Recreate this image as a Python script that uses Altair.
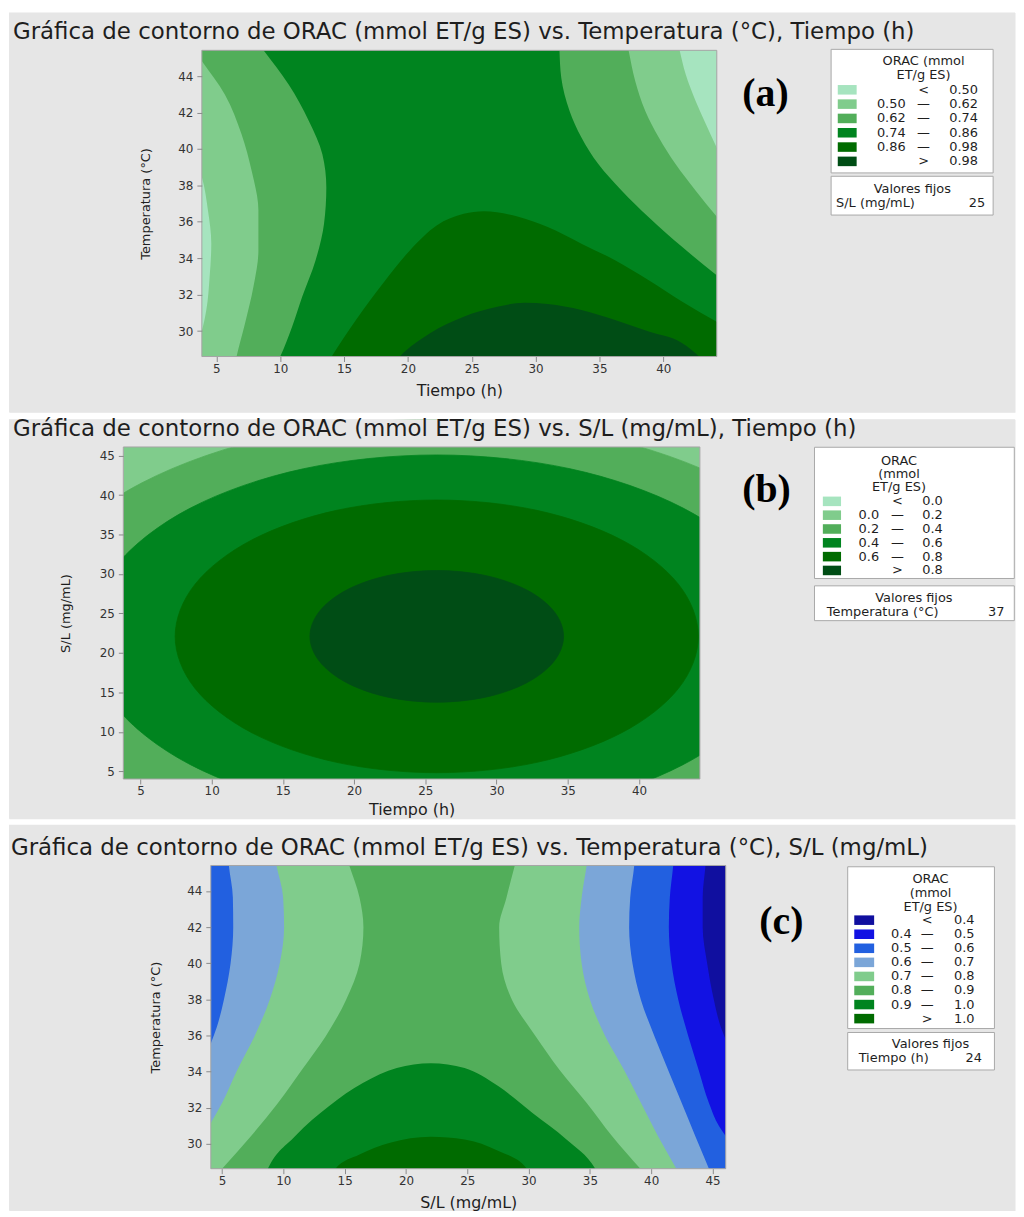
import altair as alt
import pandas as pd

FONT = "DejaVu Sans"
SERIF = "Liberation Serif"
PANEL_BG = "#e6e6e6"
FRAME = "#a4a4a4"
BOX_EDGE = "#a8a8a8"
TXT = "#1e1e1e"

# contour band colours (Minitab palette)
G1, G2, G3, G4, G5, G6 = "#a6e4bf", "#80cc8c", "#52ae5a", "#00841f", "#006b00", "#004d15"
B1, B2, B3, B4 = "#100f9f", "#1212e3", "#2260e0", "#7ba6d8"

# ---------------- texts ----------------
title_a = "Gráfica de contorno de ORAC (mmol ET/g ES) vs. Temperatura (°C), Tiempo (h)"
title_b = "Gráfica de contorno de ORAC (mmol ET/g ES) vs. S/L (mg/mL), Tiempo (h)"
title_c = "Gráfica de contorno de ORAC (mmol ET/g ES) vs. Temperatura (°C), S/L (mg/mL)"

# ---------------- legends ----------------
leg_a_title = ["ORAC (mmol", "ET/g ES)"]
leg_a_colors = [G1, G2, G3, G4, G5, G6]
leg_a_low = ["", "0.50", "0.62", "0.74", "0.86", ""]
leg_a_sym = ["<", "—", "—", "—", "—", ">"]
leg_a_high = ["0.50", "0.62", "0.74", "0.86", "0.98", "0.98"]
fix_a = ["S/L (mg/mL)", "25"]

leg_b_title = ["ORAC", "(mmol", "ET/g ES)"]
leg_b_colors = [G1, G2, G3, G4, G5, G6]
leg_b_low = ["", "0.0", "0.2", "0.4", "0.6", ""]
leg_b_sym = ["<", "—", "—", "—", "—", ">"]
leg_b_high = ["0.0", "0.2", "0.4", "0.6", "0.8", "0.8"]
fix_b = ["Temperatura (°C)", "37"]

leg_c_title = ["ORAC", "(mmol", "ET/g ES)"]
leg_c_colors = [B1, B2, B3, B4, G2, G3, G4, G5]
leg_c_low = ["", "0.4", "0.5", "0.6", "0.7", "0.8", "0.9", ""]
leg_c_sym = ["<", "—", "—", "—", "—", "—", "—", ">"]
leg_c_high = ["0.4", "0.5", "0.6", "0.7", "0.8", "0.9", "1.0", "1.0"]
fix_c = ["Tiempo (h)", "24"]

# ---------------- panel (a): Temperatura vs Tiempo ----------------
a_x_domain = [3.86, 44.19]
a_y_domain = [28.60, 45.42]
a_x_ticks = [5, 10, 15, 20, 25, 30, 35, 40]
a_y_ticks = [30, 32, 34, 36, 38, 40, 42, 44]
a_l3_y = [46.0, 45.42, 43.54, 41.54, 39.71, 37.89, 35.89, 33.89, 31.88, 30.24, 28.60, 28.0]
a_l3_x = [8.08, 8.69, 10.66, 12.24, 13.30, 13.61, 13.43, 12.77, 11.72, 10.93, 10.00, 9.6]
a_l2_y = [45.7, 44.82, 43.00, 40.81, 38.80, 36.62, 34.43, 32.43, 30.42, 28.60, 28.0]
a_l2_x = [3.0, 3.87, 5.66, 6.97, 7.76, 8.29, 8.29, 7.90, 7.24, 6.58, 6.4]
a_l1_y = [39.6, 38.44, 36.62, 34.80, 32.98, 31.15, 30.06, 29.2]
a_l1_x = [3.3, 3.87, 4.34, 4.60, 4.47, 4.21, 3.87, 3.4]
a_r3_y = [46.0, 45.42, 43.91, 42.09, 40.63, 39.17, 37.71, 36.25, 34.61, 33.06, 32.3]
a_r3_x = [31.85, 31.87, 32.01, 32.66, 33.59, 34.91, 36.75, 38.86, 41.49, 44.18, 45.5]
a_r2_y = [46.0, 45.42, 43.73, 42.09, 40.63, 39.17, 37.71, 36.29, 35.2]
a_r2_x = [37.1, 37.28, 37.80, 38.59, 39.65, 40.96, 42.54, 44.18, 45.5]
a_r1_y = [46.0, 45.42, 44.09, 42.63, 41.36, 40.08, 38.8]
a_r1_x = [41.1, 41.28, 41.76, 42.54, 43.34, 44.18, 45.0]
a_b5_x = [13.5, 14.03, 15.93, 18.04, 20.15, 22.25, 24.37, 25.94, 28.58, 30.95, 33.59, 36.22, 38.86, 41.49, 44.18, 45.5]
a_b5_y = [28.0, 28.60, 30.60, 32.61, 34.43, 35.80, 36.44, 36.58, 36.29, 35.71, 34.80, 33.89, 32.79, 31.61, 30.51, 30.0]
a_b6_x = [18.6, 19.36, 21.73, 24.37, 27.00, 29.11, 30.95, 33.59, 36.22, 38.86, 41.49, 42.81, 43.6]
a_b6_y = [28.0, 28.60, 29.88, 30.79, 31.33, 31.55, 31.48, 31.15, 30.60, 29.97, 29.33, 28.60, 28.0]

# ---------------- panel (b): S/L vs Tiempo ----------------
b_x_domain = [3.80, 44.27]
b_y_domain = [4.03, 46.09]
b_x_ticks = [5, 10, 15, 20, 25, 30, 35, 40]
b_y_ticks = [5, 10, 15, 20, 25, 30, 35, 40, 45]
b_ring3_x = [55.06, 52.83, 46.49, 37.00, 25.80, 14.60, 5.11, -1.23, -3.46, -1.23, 5.11, 14.60, 25.80, 37.00, 46.49, 52.83]
b_ring3_y = [22.10, 32.63, 41.55, 47.52, 49.61, 47.52, 41.55, 32.63, 22.10, 11.57, 2.65, 0.0, 0.0, 0.0, 2.65, 11.57]
b_ring4_x = [50.25, 48.39, 43.09, 35.16, 25.80, 16.44, 8.51, 3.21, 1.35, 3.21, 8.51, 16.44, 25.80, 35.16, 43.09, 48.39]
b_ring4_y = [22.10, 30.89, 38.35, 43.33, 45.08, 43.33, 38.35, 30.89, 22.10, 13.31, 5.85, 0.87, -0.6, 0.87, 5.85, 13.31]
b_ring5_x = [44.16, 42.76, 38.78, 32.83, 25.80, 18.77, 12.82, 8.84, 7.44, 8.84, 12.82, 18.77, 25.80, 32.83, 38.78, 42.76]
b_ring5_y = [22.10, 28.71, 34.31, 38.06, 39.37, 38.06, 34.31, 28.71, 22.10, 15.49, 9.89, 6.14, 4.83, 6.14, 9.89, 15.49]
b_ring6_x = [34.70, 34.02, 32.09, 29.21, 25.80, 22.39, 19.51, 17.58, 16.90, 17.58, 19.51, 22.39, 25.80, 29.21, 32.09, 34.02]
b_ring6_y = [22.10, 25.29, 28.00, 29.81, 30.44, 29.81, 28.00, 25.29, 22.10, 18.91, 16.20, 14.39, 13.76, 14.39, 16.20, 18.91]

# ---------------- panel (c): Temperatura vs S/L ----------------
c_x_domain = [4.08, 46.08]
c_y_domain = [28.62, 45.41]
c_x_ticks = [5, 10, 15, 20, 25, 30, 35, 40, 45]
c_y_ticks = [30, 32, 34, 36, 38, 40, 42, 44]
c_l1_y = [46.2, 45.42, 43.64, 41.99, 39.97, 37.95, 35.93, 34.09, 32.26, 30.42, 28.62, 27.8]
c_l1_x = [15.0, 15.37, 16.21, 16.53, 16.21, 15.10, 13.43, 11.50, 9.56, 7.35, 5.00, 3.9]
c_l2_y = [46.2, 45.42, 43.64, 41.99, 39.97, 37.95, 35.93, 34.09, 32.26, 31.16, 30.0]
c_l2_x = [9.2, 9.43, 9.98, 10.06, 9.70, 8.87, 7.63, 6.24, 5.00, 4.09, 3.13]
c_l3_y = [46.2, 45.42, 43.64, 41.99, 39.97, 37.95, 36.48, 35.56, 34.5]
c_l3_x = [5.45, 5.55, 5.88, 5.91, 5.69, 5.14, 4.58, 4.09, 3.5]
c_r_y = [46.2, 45.42, 43.64, 41.99, 39.97, 37.95, 35.93, 34.09, 32.26, 30.42, 28.62, 27.8]
c_r1_x = [29.2, 28.88, 28.20, 27.60, 27.77, 28.66, 30.60, 32.53, 34.74, 36.82, 39.12, 40.2]
c_r2_x = [34.9, 34.74, 34.33, 34.13, 34.33, 35.02, 36.27, 37.79, 39.17, 40.56, 42.05, 42.7]
c_r3_x = [38.7, 38.62, 38.29, 38.20, 38.48, 39.17, 40.28, 41.38, 42.49, 43.60, 44.71, 45.2]
c_r4_y = [46.2, 45.42, 43.64, 41.99, 39.97, 37.95, 35.93, 34.09, 32.26, 30.97, 30.42, 29.5]
c_r4_x = [41.9, 41.80, 41.52, 41.44, 41.66, 42.22, 43.04, 43.87, 44.71, 45.54, 46.09, 47.0]
c_r5_y = [46.2, 45.42, 43.64, 41.99, 39.97, 37.95, 36.48, 35.75, 34.5]
c_r5_x = [44.5, 44.43, 44.20, 44.20, 44.57, 45.12, 45.67, 46.09, 46.8]
c_b1_x = [8.2, 8.73, 10.95, 13.71, 16.48, 19.25, 22.02, 24.78, 27.55, 30.32, 33.09, 35.44, 36.1]
c_b1_y = [27.8, 28.62, 30.42, 32.08, 33.36, 34.19, 34.46, 34.19, 33.18, 31.71, 30.24, 28.62, 27.8]
c_b2_x = [13.6, 14.24, 16.21, 18.70, 22.02, 24.78, 27.55, 29.87, 30.5]
c_b2_y = [28.0, 28.62, 29.41, 30.06, 30.39, 30.24, 29.60, 28.62, 28.0]

ONE = pd.DataFrame({"k": [0]})
PW = 1012          # panel (view) width
LEG_FS = 13


def rect(x0, x1, y0, y1, **kw):
    return alt.Chart(ONE).mark_rect(**kw).encode(
        x=alt.value(x0), x2=alt.value(x1), y=alt.value(y0), y2=alt.value(y1))


def text(t, x, y, size, align="left", font=FONT, weight="normal", color=TXT):
    return alt.Chart(pd.DataFrame({"t": [t]})).mark_text(
        align=align, baseline="middle", font=font, fontSize=size,
        fontWeight=weight, color=color).encode(
        x=alt.value(x), y=alt.value(y), text="t:N")


def encoders(PH, plot, xdom, ydom, xticks, yticks, xtitle, ytitle, title_y, title_x):
    px, py, W, H = plot
    common = dict(labelFont=FONT, labelFontSize=12, labelColor="#333333",
                  tickColor="#8a8a8a", tickSize=5, domain=False, grid=False,
                  zindex=1, titleFont=FONT, titleFontWeight="normal",
                  titleColor=TXT, titleBaseline="middle")
    ax = alt.Axis(values=xticks, title=xtitle, labelPadding=2, offset=(py + H) - PH,
                  titleFontSize=16, titleY=title_y, **common)
    ay = alt.Axis(values=yticks, title=ytitle, labelPadding=4, offset=-px,
                  titleFontSize=13, titleX=title_x, **common)
    X = alt.X("x:Q", scale=alt.Scale(domain=xdom, range=[px, px + W], nice=False, zero=False), axis=ax)
    Y = alt.Y("y:Q", scale=alt.Scale(domain=ydom, range=[py + H, py], nice=False, zero=False), axis=ay)
    return X, Y


def side_band(xs, ys, edge, color, X, Y):
    df = pd.DataFrame({"x": xs, "y": ys, "edge": [edge] * len(xs)})
    return alt.Chart(df).mark_area(color=color, orient="horizontal",
                                   interpolate="monotone", clip=True).encode(
        x=X, x2=alt.X2("edge"), y=Y)


def floor_band(xs, ys, edge, color, X, Y):
    df = pd.DataFrame({"x": xs, "y": ys, "edge": [edge] * len(xs)})
    return alt.Chart(df).mark_area(color=color, orient="vertical",
                                   interpolate="monotone", clip=True).encode(
        x=X, y=Y, y2=alt.Y2("edge"))


def ring(xs, ys, color, X, Y):
    df = pd.DataFrame({"i": list(range(len(xs))), "x": xs, "y": ys})
    return alt.Chart(df).mark_line(fill=color, stroke=color, strokeWidth=0.8,
                                   interpolate="cardinal-closed", clip=True).encode(
        x=X, y=Y, order="i:Q")


def legend(box, title_lines, title_cx, title_ys, colors, lows, syms, highs,
           sw_x, sw_w, y0, step, x_lo, x_sym, x_hi, fbox, fix, fix_title_xy,
           fix_left, fix_right, fix_y, size=LEG_FS):
    layers = [rect(box[0], box[1], box[2], box[3], fill="white", stroke=BOX_EDGE, strokeWidth=1),
              rect(fbox[0], fbox[1], fbox[2], fbox[3], fill="white", stroke=BOX_EDGE, strokeWidth=1)]
    for line, ty in zip(title_lines, title_ys):
        layers.append(text(line, title_cx, ty, size, align="center"))
    n = len(colors)
    df = pd.DataFrame({"i": list(range(n)), "c": colors, "lo": lows, "s": syms, "hi": highs})
    base = alt.Chart(df).transform_calculate(
        yc=f"{y0} + {step} * datum.i",
        yt=f"{y0} - 4.8 + {step} * datum.i",
        yb=f"{y0} + 4.8 + {step} * datum.i")
    ycen = alt.Y("yc:Q", scale=None, axis=None)
    layers.append(base.mark_rect().encode(
        x=alt.value(sw_x), x2=alt.value(sw_x + sw_w),
        y=alt.Y("yt:Q", scale=None, axis=None), y2=alt.Y2("yb"),
        color=alt.Color("c:N", scale=None, legend=None)))
    tk = dict(baseline="middle", font=FONT, fontSize=size, color=TXT)
    layers.append(base.mark_text(align="right", **tk).encode(x=alt.value(x_lo), y=ycen, text="lo:N"))
    layers.append(base.mark_text(align="center", **tk).encode(x=alt.value(x_sym), y=ycen, text="s:N"))
    layers.append(base.mark_text(align="right", **tk).encode(x=alt.value(x_hi), y=ycen, text="hi:N"))
    layers.append(text("Valores fijos", fix_title_xy[0], fix_title_xy[1], size, align="center"))
    layers.append(text(fix[0], fix_left, fix_y, size, align="left"))
    layers.append(text(fix[1], fix_right, fix_y, size, align="right"))
    return layers


def panel(PH, plot, base_color, bands, title, title_xy, tag, tag_xy, leg_layers):
    px, py, W, H = plot
    layers = [rect(px, px + W, py, py + H, fill=base_color)]
    layers += bands
    # panel background around the plot area (overlapping to avoid seams)
    layers += [rect(0, PW, 0, py, fill=PANEL_BG),
               rect(0, PW, py + H, PH, fill=PANEL_BG),
               rect(0, px, py - 1, py + H + 1, fill=PANEL_BG),
               rect(px + W, PW, py - 1, py + H + 1, fill=PANEL_BG)]
    layers.append(rect(px, px + W, py, py + H, fill="transparent", stroke=FRAME, strokeWidth=1))
    layers.append(text(title, title_xy[0], title_xy[1], 23))
    layers.append(text(tag, tag_xy[0], tag_xy[1], 40, align="center", font=SERIF,
                       weight="bold", color="#000000"))
    layers += leg_layers
    return alt.layer(*layers).properties(width=PW, height=PH)


# ---------------- row (a) ----------------
PH_a, plot_a = 402, (194, 38, 518, 308)
Xa, Ya = encoders(PH_a, plot_a, a_x_domain, a_y_domain, a_x_ticks, a_y_ticks,
                  "Tiempo (h)", "Temperatura (°C)", 34.5, -57)
bands_a = [
    side_band(a_l3_x, a_l3_y, 0, G3, Xa, Ya),
    side_band(a_l2_x, a_l2_y, 0, G2, Xa, Ya),
    side_band(a_l1_x, a_l1_y, 0, G1, Xa, Ya),
    side_band(a_r3_x, a_r3_y, 50, G3, Xa, Ya),
    side_band(a_r2_x, a_r2_y, 50, G2, Xa, Ya),
    side_band(a_r1_x, a_r1_y, 50, G1, Xa, Ya),
    floor_band(a_b5_x, a_b5_y, 27, G5, Xa, Ya),
    floor_band(a_b6_x, a_b6_y, 27, G6, Xa, Ya),
]
leg_a = legend((827, 990, 37, 161.3), leg_a_title, 920, [48.3, 62.7],
               leg_a_colors, leg_a_low, leg_a_sym, leg_a_high,
               833.7, 19, 77.7, 14.4, 902, 920, 974.7,
               (827, 990, 164.7, 203.7), fix_a, (908.7, 177.7), 832, 982, 191.3)
row_a = panel(PH_a, plot_a, G4, bands_a, title_a, (4, 20), "(a)", (761, 82), leg_a)

# ---------------- row (b) ----------------
PH_b, plot_b = 402, (115, 28, 580, 334)
Xb, Yb = encoders(PH_b, plot_b, b_x_domain, b_y_domain, b_x_ticks, b_y_ticks,
                  "Tiempo (h)", "S/L (mg/mL)", 30.5, -58)
bands_b = [
    ring(b_ring3_x, b_ring3_y, G3, Xb, Yb),
    ring(b_ring4_x, b_ring4_y, G4, Xb, Yb),
    ring(b_ring5_x, b_ring5_y, G5, Xb, Yb),
    ring(b_ring6_x, b_ring6_y, G6, Xb, Yb),
]
leg_b = legend((810.3, 1011.3, 28.3, 160.3), leg_b_title, 895.3, [41.7, 55.3, 68.7],
               leg_b_colors, leg_b_low, leg_b_sym, leg_b_high,
               818.7, 18.3, 82.7, 13.9, 875.3, 893.7, 939.3,
               (810.3, 1011.3, 167.7, 202.7), fix_b, (910.3, 180.3), 822.7, 1001.3, 194.3)
row_b = panel(PH_b, plot_b, G2, bands_b, title_b, (4, 9.5), "(b)", (762, 71), leg_b)

# ---------------- row (c) ----------------
PH_c, plot_c = 388, (203, 41, 518, 305)
Xc, Yc = encoders(PH_c, plot_c, c_x_domain, c_y_domain, c_x_ticks, c_y_ticks,
                  "S/L (mg/mL)", "Temperatura (°C)", 34, -56)
bands_c = [
    side_band(c_l1_x, c_l1_y, 0, G2, Xc, Yc),
    side_band(c_l2_x, c_l2_y, 0, B4, Xc, Yc),
    side_band(c_l3_x, c_l3_y, 0, B3, Xc, Yc),
    side_band(c_r1_x, c_r_y, 55, G2, Xc, Yc),
    side_band(c_r2_x, c_r_y, 55, B4, Xc, Yc),
    side_band(c_r3_x, c_r_y, 55, B3, Xc, Yc),
    side_band(c_r4_x, c_r4_y, 55, B2, Xc, Yc),
    side_band(c_r5_x, c_r5_y, 55, B1, Xc, Yc),
    floor_band(c_b1_x, c_b1_y, 27, G4, Xc, Yc),
    floor_band(c_b2_x, c_b2_y, 27, G5, Xc, Yc),
]
leg_c = legend((843.7, 991.3, 42.3, 205), leg_c_title, 927, [55, 68.3, 82.3],
               leg_c_colors, leg_c_low, leg_c_sym, leg_c_high,
               850.3, 20, 96, 14.15, 908, 923.7, 971.3,
               (843.7, 991.3, 209, 246.7), fix_c, (927, 221), 854.7, 978.7, 235)
row_c = panel(PH_c, plot_c, G3, bands_c, title_c, (2, 23), "(c)", (777, 98), leg_c)

chart = alt.vconcat(row_a, row_b, row_c, spacing=4).properties(
    padding=0, background="white"
).configure_view(stroke="transparent", fill=PANEL_BG)

chart.save("out.html", embed_options={"renderer": "svg", "actions": False})
